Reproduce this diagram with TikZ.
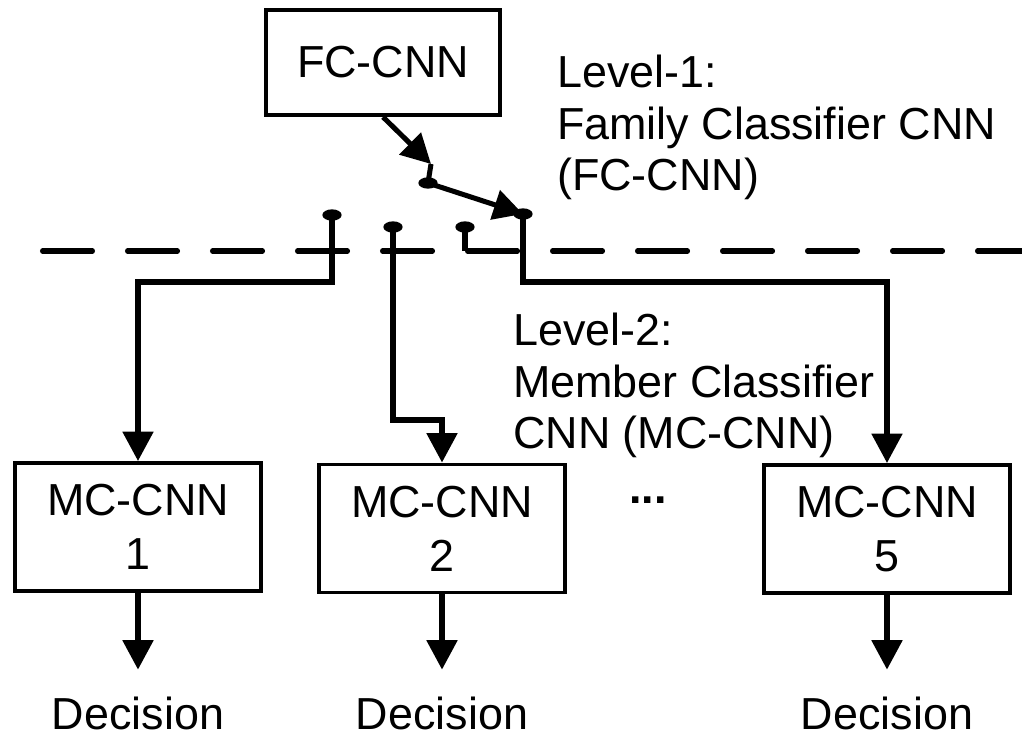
\documentclass[tikz,border=0pt]{standalone}
\usepackage{fontspec}
\setmainfont{Liberation Sans}
\usetikzlibrary{arrows.meta}

\newcommand\mcfont{\fontsize{38.3pt}{46pt}\selectfont}
\newcommand\lblfont{\fontsize{38.3pt}{44pt}\selectfont}

\tikzset{
  unitbox/.style={draw, line width=3.4pt, align=center, inner sep=0pt, font=\mcfont},
  mcbox/.style={unitbox, minimum width=7.38cm, minimum height=3.84cm},
  wire/.style={line width=4.3pt},
  arr/.style={wire, -{Triangle[length=0.88cm,width=0.9cm]}},
  note/.style={align=left, anchor=north west, inner sep=0pt, font=\lblfont},
  outlabel/.style={anchor=base, inner sep=0pt, font=\mcfont},
  contact/.style={fill=black},
  levelline/.style={line width=4.3pt, line cap=round, dash pattern=on 1.5cm off 1.05cm},
}

\begin{document}
\begin{tikzpicture}[x=0.03cm, y=-0.03cm]
  \useasboundingbox (0,0) rectangle (1022,739);

  % level-1 classifier
  \node[unitbox, minimum width=7.02cm, minimum height=3.15cm] (fc) at (383,62.5) {FC-CNN};

  % switch: input stem, pivot and contacts
  \coordinate (stem)  at (431,164);
  \coordinate (pivot) at (428,183);
  \coordinate (c1) at (332,215);
  \coordinate (c2) at (393,227);
  \coordinate (c3) at (465,227);
  \coordinate (c4) at (523,214);

  % routing levels and the level separator
  \coordinate (r1) at (0,282);
  \coordinate (r2) at (0,420);
  \coordinate (sep) at (0,251);
  \coordinate (dl) at (42.5,251);
  \coordinate (dr) at (1022,251);

  % level-2 classifiers
  \node[mcbox] (m1) at (138,527) {MC-CNN\\1};
  \node[mcbox] (m2) at (442,528.5) {MC-CNN\\2};
  \node[mcbox] (m5) at (887,529) {MC-CNN\\5};
  \node[anchor=base, inner sep=0pt, font=\mcfont\bfseries] (dots) at (648,504) {...};

  % outputs
  \node[outlabel] (d1) at (138,729) {Decision};
  \node[outlabel] (d2) at (442,729) {Decision};
  \node[outlabel] (d5) at (887,729) {Decision};

  % labels
  \node[note] (lv1) at (557,55) {Level-1:\\Family Classifier CNN\\(FC-CNN)};
  \node[note] (lv2) at (513,313) {Level-2:\\Member Classifier\\CNN (MC-CNN)};

  % separator between the two levels
  \draw[levelline] (dl) -- (dr);

  % switch
  \draw[arr] (fc.south) -- (stem);
  \draw[wire] (stem) -- (pivot);
  \draw[arr] (pivot) -- (c4);

  % contacts to the member classifiers
  \draw[arr] (c1) -- (c1 |- r1) -| (m1.north);
  \draw[arr] (c2) -- (c2 |- r2) -| (m2.north);
  \draw[wire] (c3) -- (c3 |- sep);
  \draw[arr] (c4) -- (c4 |- r1) -| (m5.north);

  \foreach \p in {pivot,c1,c2,c3,c4}
    \fill[contact] (\p) ellipse [x radius=0.29cm, y radius=0.17cm];

  % decisions
  \draw[arr, shorten >=0.8cm] (m1.south) -- (d1.north);
  \draw[arr, shorten >=0.8cm] (m2.south) -- (d2.north);
  \draw[arr, shorten >=0.8cm] (m5.south) -- (d5.north);
\end{tikzpicture}
\end{document}
